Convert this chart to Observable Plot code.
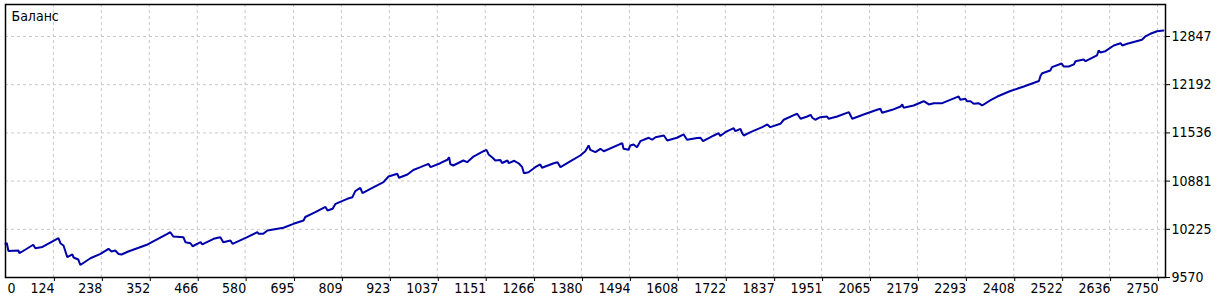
<!DOCTYPE html>
<html>
<head>
<meta charset="utf-8">
<script src="https://cdn.jsdelivr.net/npm/d3@7"></script>
<script src="https://cdn.jsdelivr.net/npm/@observablehq/plot@0.6"></script>
<style>
  html, body { margin: 0; padding: 0; background: #ffffff; }
</style>
</head>
<body>
<div id="chart"></div>
<script>
const title = "Баланс";

const tradeIndex = [
  10, 13, 17, 41, 43, 48, 76, 81, 98, 136, 141, 148, 157, 169, 172, 183, 188, 212, 236, 255,
  262, 271, 279, 286, 302, 348, 395, 402, 409, 433, 438, 450, 455, 474, 478, 505, 521, 528, 545, 550,
  585, 609, 612, 623, 633, 671, 695, 719, 723, 747, 771, 776, 788, 795, 823, 835, 842, 854, 859, 878,
  909, 921, 942, 946, 966, 980, 997, 1016, 1021, 1044, 1061, 1065, 1068, 1075, 1099, 1108, 1123, 1147, 1154, 1159,
  1168, 1175, 1187, 1191, 1204, 1207, 1220, 1231, 1239, 1243, 1254, 1270, 1282, 1286, 1314, 1323, 1330, 1350, 1377, 1389,
  1397, 1401, 1413, 1425, 1433, 1473, 1477, 1480, 1492, 1496, 1504, 1512, 1520, 1540, 1548, 1556, 1576, 1584, 1607, 1623,
  1631, 1655, 1663, 1669, 1695, 1706, 1710, 1722, 1742, 1746, 1758, 1762, 1766, 1782, 1810, 1822, 1829, 1853, 1861, 1889,
  1893, 1901, 1917, 1925, 1929, 1936, 1948, 1964, 1968, 1988, 2016, 2020, 2024, 2051, 2083, 2091, 2095, 2119, 2139, 2143,
  2146, 2170, 2194, 2198, 2206, 2218, 2238, 2273, 2277, 2281, 2293, 2297, 2305, 2313, 2324, 2333, 2353, 2369, 2400, 2432,
  2468, 2472, 2476, 2495, 2499, 2522, 2527, 2539, 2551, 2555, 2574, 2579, 2606, 2610, 2614, 2626, 2646, 2662, 2666, 2678,
  2713, 2721, 2733, 2749, 2764
];

const balance = [
  10028, 10039, 9930, 9937, 9900, 9917, 10015, 9968, 9985, 10104, 10032, 10005, 9846, 9883, 9842, 9815, 9740, 9832, 9892, 9960,
  9923, 9937, 9889, 9883, 9923, 10019, 10164, 10186, 10127, 10118, 10050, 10036, 9995, 10050, 10019, 10096, 10118, 10050, 10073, 10028,
  10118, 10186, 10164, 10164, 10209, 10246, 10300, 10345, 10393, 10458, 10529, 10481, 10504, 10572, 10640, 10662, 10744, 10790, 10716, 10776,
  10866, 10943, 10980, 10926, 10971, 11032, 11070, 11116, 11070, 11124, 11171, 11206, 11113, 11093, 11161, 11138, 11215, 11287, 11306, 11243,
  11202, 11161, 11168, 11127, 11161, 11124, 11157, 11120, 11070, 10988, 11002, 11070, 11107, 11062, 11124, 11138, 11070, 11138, 11229, 11287,
  11365, 11306, 11274, 11320, 11287, 11388, 11396, 11320, 11306, 11365, 11379, 11342, 11424, 11470, 11443, 11478, 11501, 11433, 11470, 11515,
  11443, 11467, 11470, 11424, 11501, 11532, 11494, 11546, 11600, 11560, 11592, 11532, 11501, 11546, 11614, 11651, 11614, 11660, 11715, 11787,
  11796, 11728, 11759, 11782, 11742, 11715, 11750, 11759, 11728, 11759, 11818, 11773, 11728, 11787, 11850, 11864, 11810, 11850, 11895, 11923,
  11878, 11909, 11967, 11954, 11923, 11940, 11940, 12022, 12031, 11986, 12000, 11967, 11967, 11932, 11940, 11909, 11981, 12031, 12106, 12167,
  12242, 12317, 12348, 12385, 12430, 12480, 12439, 12439, 12467, 12511, 12535, 12511, 12589, 12657, 12630, 12647, 12725, 12756, 12725, 12748,
  12802, 12847, 12884, 12919, 12929
];

const xTickValues = [124, 238, 352, 466, 580, 695, 809, 923, 1037, 1151, 1266, 1380, 1494, 1608, 1722, 1837, 1951, 2065, 2179, 2293, 2408, 2522, 2636, 2750];
const xFirstLabel = ["0"];
const yTickValues = [9570, 10225, 10881, 11536, 12192, 12847];

const xDomain = [10, 2769];
const yDomain = [9570, 13282];

const rows = tradeIndex.map((x, i) => ({x, y: balance[i]}));

const gridColor = "#c8c8c8";
const lineColor = "#0000aa";
const fontFamily = "'DejaVu Sans Condensed', 'Liberation Sans', sans-serif";
const fs = 14;
const plain = (d) => String(d);

const chart = Plot.plot({
  width: 1230,
  height: 300,
  marginLeft: 5,
  marginRight: 65,
  marginTop: 4,
  marginBottom: 23,
  style: {fontFamily, fontSize: fs + "px", color: "#000", background: "#fff", overflow: "visible"},
  x: {domain: xDomain, axis: null},
  y: {domain: yDomain, axis: null},
  marks: [
    Plot.gridX(xTickValues, {stroke: gridColor, strokeOpacity: 1, strokeDasharray: "3,3"}),
    Plot.gridY(yTickValues, {stroke: gridColor, strokeOpacity: 1, strokeDasharray: "3,3"}),
    Plot.line(rows, {x: "x", y: "y", stroke: lineColor, strokeWidth: 2, strokeLinejoin: "miter"}),
    Plot.frame({stroke: "#000", strokeWidth: 1.5}),
    Plot.axisX(xTickValues, {anchor: "bottom", label: null, tickFormat: plain, tickSize: 4, tickPadding: 2, textAnchor: "end", dx: 1, stroke: "#000", fill: "#000", fontSize: fs}),
    Plot.text(xFirstLabel, {x: () => xDomain[0], frameAnchor: "bottom", textAnchor: "start", lineAnchor: "top", dx: 2, dy: 6, fill: "#000", fontSize: fs}),
    Plot.axisY(yTickValues, {anchor: "right", label: null, tickFormat: plain, tickSize: 4, tickPadding: 2, stroke: "#000", fill: "#000", fontSize: fs}),
    Plot.text([title], {frameAnchor: "top-left", textAnchor: "start", lineAnchor: "top", dx: 6, dy: 7, fill: "#000", fontSize: fs})
  ]
});

document.getElementById("chart").appendChild(chart);
</script>
</body>
</html>
